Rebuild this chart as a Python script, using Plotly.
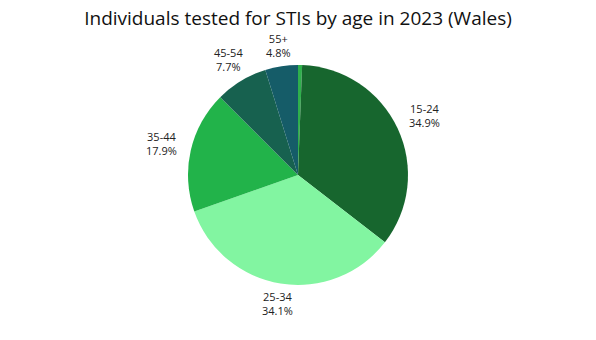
import math
import plotly.graph_objects as go

# Age bands, share of individuals tested (%), slice colours (clockwise from 12 o'clock)
age_groups = ["Under 15", "15-24", "25-34", "35-44", "45-54", "55+"]
share_pct = [0.6, 34.9, 34.1, 17.9, 7.7, 4.8]
slice_colors = ["#2fb04c", "#17662e", "#82f5a1", "#22b34a", "#17614f", "#155c68"]
show_label = [False, True, True, True, True, True]

W, H = 596, 340
dom_x = [0.315, 0.685]
dom_y = [0.162, 0.809]

fig = go.Figure(
    go.Pie(
        labels=age_groups,
        values=share_pct,
        textinfo="none",
        sort=False,
        direction="clockwise",
        rotation=0,
        marker=dict(colors=slice_colors, line=dict(width=0)),
        showlegend=False,
        hoverinfo="label+percent",
        domain=dict(x=dom_x, y=dom_y),
    )
)

# Outside labels, centred on each slice's mid-angle just beyond the rim
cx = (dom_x[0] + dom_x[1]) / 2 * W
cy = (dom_y[0] + dom_y[1]) / 2 * H
radius = min((dom_x[1] - dom_x[0]) * W, (dom_y[1] - dom_y[0]) * H) / 2
total = sum(share_pct)
cum = 0.0
for name, val, show in zip(age_groups, share_pct, show_label):
    mid = (cum + val / 2) / total * 2 * math.pi
    cum += val
    if not show:
        continue
    r_lab = radius * 1.17 + 12 * abs(math.sin(mid))
    px = cx + r_lab * math.sin(mid)
    py = cy + r_lab * math.cos(mid)
    fig.add_annotation(
        x=px / W,
        y=py / H,
        xref="paper",
        yref="paper",
        text=f"{name}<br>{val:.1f}%",
        showarrow=False,
        align="center",
        xanchor="center",
        yanchor="middle",
        font=dict(family="Open Sans", size=11, color="#222222"),
    )

fig.update_layout(
    width=W,
    height=H,
    margin=dict(l=0, r=0, t=0, b=0),
    paper_bgcolor="white",
    plot_bgcolor="white",
    title=dict(
        text="Individuals tested for STIs by age in 2023 (Wales)",
        x=0.5,
        xanchor="center",
        y=0.947,
        yanchor="middle",
        font=dict(family="Open Sans", size=19, color="#111111"),
    ),
)

fig.write_html("out.html")
